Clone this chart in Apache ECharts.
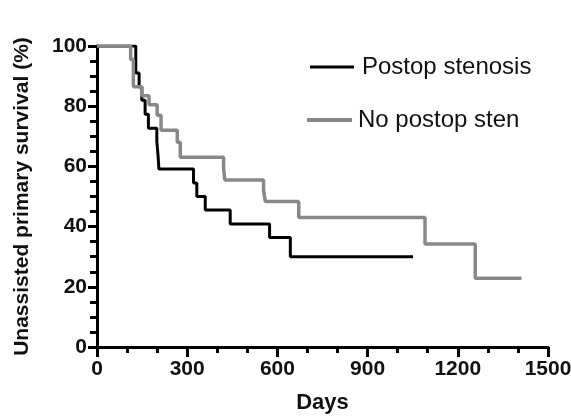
<!DOCTYPE html>
<html>
<head>
<meta charset="utf-8">
<script src="https://cdn.jsdelivr.net/npm/echarts@6/dist/echarts.min.js"></script>
<style>
html,body{margin:0;padding:0;background:#fff;}
#chart{width:571px;height:416px;}
</style>
</head>
<body>
<div id="chart"></div>
<script>
// Postop stenosis (black) – step points: day of event, survival after event
var blackDays = [0, 129, 140, 149, 160, 171, 199, 203, 206, 321, 332, 360, 443, 574, 643, 1051];
var blackSurv = [100, 91, 86.4, 82, 77.3, 72.7, 68.2, 63.6, 59.1, 54.5, 50, 45.5, 40.9, 36.4, 30, 30];
// No postop stenosis (gray)
var grayDays = [0, 112, 121, 149, 173, 200, 213, 267, 277, 421, 425, 554, 560, 671, 1091, 1258, 1412];
var graySurv = [100, 95.5, 86.5, 83.5, 80.5, 77, 72, 68, 63, 59.5, 55.5, 52, 48.3, 43, 34.2, 22.8, 22.8];
var xTicks = {min: 0, max: 1500, interval: 300};
var yTicks = {min: 0, max: 100, interval: 20};
var seriesNames = ['Postop stenosis', 'No postop sten'];

function pairs(xs, ys) { return xs.map(function (x, i) { return [x, ys[i]]; }); }

var FONT = "'Liberation Sans', Arial, Helvetica, sans-serif";
var chart = echarts.init(document.getElementById('chart'), null, {renderer: 'canvas'});
chart.setOption({
  animation: false,
  backgroundColor: '#fff',
  grid: {left: 97, right: 23, top: 46, bottom: 69, containLabel: false, outerBoundsMode: 'none'},
  legend: [
    {data: [seriesNames[0]], left: 310, top: 55, padding: 0, icon: 'rect', itemWidth: 44, itemHeight: 3,
     textStyle: {fontFamily: FONT, fontSize: 24, color: '#111', lineHeight: 24, padding: [0, 0, 0, 3]}},
    {data: [seriesNames[1]], left: 307, top: 108, padding: 0, icon: 'rect', itemWidth: 45, itemHeight: 4,
     textStyle: {fontFamily: FONT, fontSize: 24, color: '#111', lineHeight: 24, padding: [0, 0, 0, 1]}}
  ],
  xAxis: {
    type: 'value', min: xTicks.min, max: xTicks.max, interval: xTicks.interval,
    name: 'Days', nameLocation: 'middle', nameGap: 45,
    nameTextStyle: {fontFamily: FONT, fontSize: 22, fontWeight: 'bold', color: '#111'},
    axisLine: {show: true, lineStyle: {color: '#000', width: 3}},
    axisTick: {show: true, inside: false, length: 10, lineStyle: {color: '#000', width: 3}},
    minorTick: {show: true, splitNumber: 3, length: 6, lineStyle: {color: '#000', width: 3}},
    splitLine: {show: false},
    axisLabel: {fontFamily: FONT, fontSize: 21, fontWeight: 'bold', color: '#111', margin: 12,
                formatter: function (v) { return String(v); }}
  },
  yAxis: {
    type: 'value', min: yTicks.min, max: yTicks.max, interval: yTicks.interval,
    name: 'Unassisted primary survival (%)', nameLocation: 'middle', nameGap: 64,
    nameTextStyle: {fontFamily: FONT, fontSize: 21, fontWeight: 'bold', color: '#111'},
    axisLine: {show: true, lineStyle: {color: '#000', width: 3}},
    axisTick: {show: true, inside: false, length: 9, lineStyle: {color: '#000', width: 3}},
    minorTick: {show: true, splitNumber: 4, length: 7, lineStyle: {color: '#000', width: 3}},
    splitLine: {show: false},
    axisLabel: {fontFamily: FONT, fontSize: 21, fontWeight: 'bold', color: '#111', margin: 10,
                formatter: function (v) { return String(v); }}
  },
  series: [
    {name: seriesNames[0], type: 'line', step: 'end', symbol: 'none', data: pairs(blackDays, blackSurv),
     itemStyle: {color: '#000'}, lineStyle: {color: '#000', width: 3}, z: 2},
    {name: seriesNames[1], type: 'line', step: 'end', symbol: 'none', data: pairs(grayDays, graySurv),
     itemStyle: {color: '#888'}, lineStyle: {color: '#888', width: 3.5}, z: 3}
  ]
});
</script>
</body>
</html>
